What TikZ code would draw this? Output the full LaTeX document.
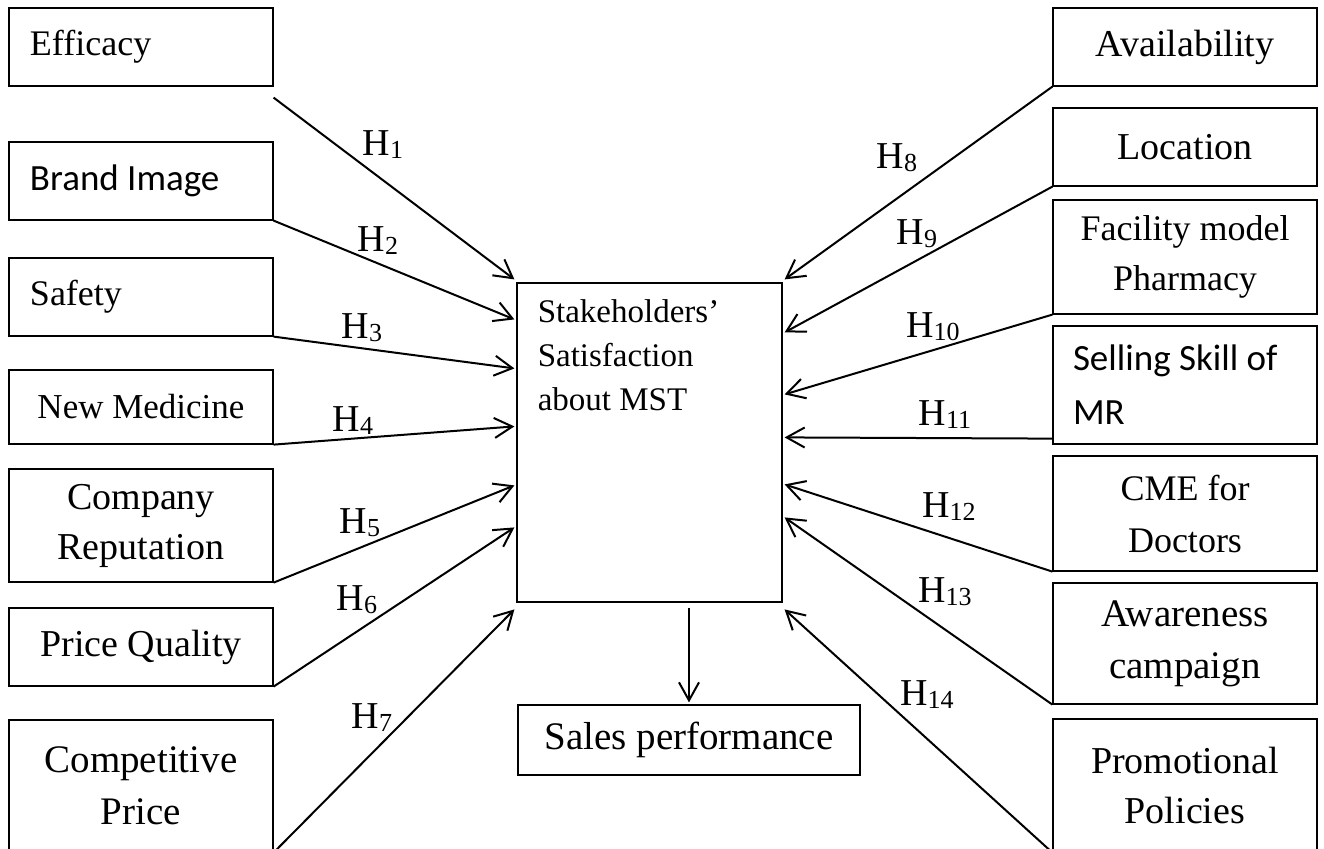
\documentclass[tikz,border=0pt]{standalone}
\usepackage{fontspec}
\setmainfont{Liberation Serif}
\newfontfamily\calibrifont{Carlito}
\usepackage{tikz}
\usetikzlibrary{arrows.meta}

\newcommand{\hyp}[1]{H\raisebox{-1.5pt}{\fontsize{13}{13}\selectfont #1}}

\begin{document}
\begin{tikzpicture}[x=0.5pt, y=-0.5pt,
        box/.style={draw, line width=0.6pt, inner sep=0pt, align=center, minimum width=132pt, font=\fontsize{19}{25}\selectfont},
        lbox/.style={box, align=flush left, inner xsep=10.5pt, text width=111pt},
        hyparrow/.style={-{Straight Barb[length=9pt, width=10pt]}, line width=1pt},
        hlabel/.style={font=\fontsize{19}{19}\selectfont, inner sep=0pt}]
        \useasboundingbox (0,0) rectangle (1324,848);
        \node[lbox, minimum height=39pt, font=\fontsize{18}{25}\selectfont] (eff) at (141,47) {Efficacy};
        \node[lbox, minimum height=39pt, font=\calibrifont\fontsize{18.5}{25}\selectfont] (brand) at (141,181) {Brand Image};
        \node[lbox, minimum height=39pt, font=\fontsize{18}{25}\selectfont] (safety) at (141,297) {Safety};
        \node[box, minimum height=37pt, font=\fontsize{17.5}{25}\selectfont] (newmed) at (141,407) {New Medicine};
        \node[box, minimum height=56.5pt] (comprep) at (141,525.5) {Company\\Reputation};
        \node[box, minimum height=39pt] (pricequal) at (141,647) {Price Quality};
        \node[box, minimum height=66pt, font=\fontsize{19.5}{26}\selectfont] (comppr) at (141,786) {Competitive\\Price};
        \node[box, minimum height=39pt] (avail) at (1185,47) {Availability};
        \node[box, minimum height=39pt] (loc) at (1185,147) {Location};
        \node[box, minimum height=57pt, font=\fontsize{18}{25}\selectfont] (facil) at (1185,257) {Facility model\\Pharmacy};
        \node[lbox, minimum height=59pt, inner xsep=10pt, text width=112pt, font=\calibrifont\fontsize{18.5}{27}\selectfont] (sell) at (1185,385) {Selling Skill of\\MR};
        \node[box, minimum height=57.5pt, font=\fontsize{18}{26}\selectfont] (cme) at (1185,513.5) {CME for\\Doctors};
        \node[box, minimum height=60.5pt, font=\fontsize{19.5}{26}\selectfont] (aware) at (1185,643.5) {Awareness\\campaign};
        \node[box, minimum height=66.5pt] (promo) at (1185,785.5) {Promotional\\Policies};
        \node[box, minimum width=132.5pt, minimum height=159.5pt] (stk) at (649.5,442.5) {};
        \node[anchor=north west, inner sep=0pt, align=flush left, font=\fontsize{16.5}{22}\selectfont] (stktxt) at ([xshift=10.5pt, yshift=-8.3pt]stk.north west) {Stakeholders'\\Satisfaction\\about MST};
        \node[box, minimum width=171pt, minimum height=35pt, font=\fontsize{19.5}{25}\selectfont] (sales) at (689,740) {Sales performance};
        \draw[hyparrow] ([yshift=-5.5pt]eff.south east) -- ([xshift=-1pt, yshift=1.5pt]stk.north west);
        \draw[hyparrow] (brand.south east) -- ([xshift=-1pt, yshift=-18.5pt]stk.north west);
        \draw[hyparrow] (safety.south east) -- ([xshift=-1pt, yshift=-43pt]stk.north west);
        \draw[hyparrow] (newmed.south east) -- ([xshift=-1pt, yshift=-72pt]stk.north west);
        \draw[hyparrow] (comprep.south east) -- ([xshift=-1pt, yshift=-101.5pt]stk.north west);
        \draw[hyparrow] (pricequal.south east) -- ([xshift=-1pt, yshift=-122.5pt]stk.north west);
        \draw[hyparrow] (comppr.south east) -- ([xshift=-1pt, yshift=-163.5pt]stk.north west);
        \draw[hyparrow] (avail.south west) -- ([xshift=1pt, yshift=1.5pt]stk.north east);
        \draw[hyparrow] (loc.south west) -- ([xshift=1pt, yshift=-25pt]stk.north east);
        \draw[hyparrow] (facil.south west) -- ([xshift=1pt, yshift=-56pt]stk.north east);
        \draw[hyparrow] ([yshift=3pt]sell.south west) -- ([xshift=1pt, yshift=-77.5pt]stk.north east);
        \draw[hyparrow] (cme.south west) -- ([xshift=1pt, yshift=-101pt]stk.north east);
        \draw[hyparrow] (aware.south west) -- ([xshift=1pt, yshift=-117.5pt]stk.north east);
        \draw[hyparrow] (promo.south west) -- ([xshift=1pt, yshift=-163.5pt]stk.north east);
        \draw[hyparrow, shorten >=1pt] ([yshift=-2.5pt]stk.south -| sales.north) -- (sales.north);
        \node[hlabel] (h1) at (383,145) {\hyp{1}};
        \node[hlabel] (h2) at (378,241) {\hyp{2}};
        \node[hlabel] (h3) at (362,328) {\hyp{3}};
        \node[hlabel] (h4) at (353,421) {\hyp{4}};
        \node[hlabel] (h5) at (360,523) {\hyp{5}};
        \node[hlabel] (h6) at (357,600) {\hyp{6}};
        \node[hlabel] (h7) at (372,718) {\hyp{7}};
        \node[hlabel] (h8) at (897,158) {\hyp{8}};
        \node[hlabel] (h9) at (917,234) {\hyp{9}};
        \node[hlabel] (h10) at (933,327) {\hyp{10}};
        \node[hlabel] (h11) at (945,415) {\hyp{11}};
        \node[hlabel] (h12) at (949,507) {\hyp{12}};
        \node[hlabel] (h13) at (945,592) {\hyp{13}};
        \node[hlabel] (h14) at (927,695) {\hyp{14}};
\end{tikzpicture}
\end{document}
